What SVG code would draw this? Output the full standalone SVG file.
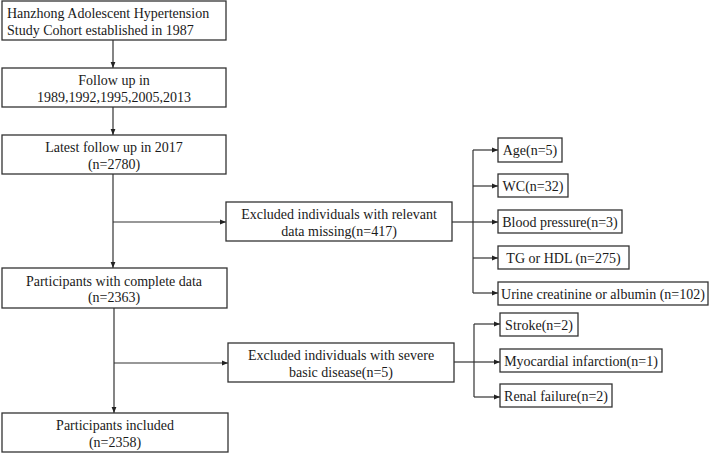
<svg xmlns="http://www.w3.org/2000/svg" width="709" height="453" viewBox="0 0 709 453">
<style>
.box{fill:#fff;stroke:#333;stroke-width:1.3}
.t{font-family:"Liberation Serif","Times New Roman",serif;font-size:14px;fill:#1a1a1a;text-anchor:middle;dominant-baseline:central}
.l{text-anchor:start}
.c{fill:none;stroke:#333;stroke-width:1.2}
</style>
<defs>
<marker id="a" viewBox="0 0 10 10" refX="10" refY="5" markerWidth="6" markerHeight="6" markerUnits="userSpaceOnUse" orient="auto">
<path d="M0,1 L10,5 L0,9 z" fill="#222"/>
</marker>
</defs>
<rect width="709" height="453" fill="#fff"/>
<g id="connectors">
<line class="c" x1="113" y1="40" x2="113" y2="68" marker-end="url(#a)"/>
<line class="c" x1="113" y1="107" x2="113" y2="135" marker-end="url(#a)"/>
<line class="c" x1="113" y1="174" x2="113" y2="268" marker-end="url(#a)"/>
<line class="c" x1="113" y1="222" x2="226" y2="222" marker-end="url(#a)"/>
<line class="c" x1="114" y1="308" x2="114" y2="413" marker-end="url(#a)"/>
<line class="c" x1="114" y1="363" x2="228" y2="363" marker-end="url(#a)"/>
<line class="c" x1="452" y1="222" x2="473" y2="222"/>
<line class="c" x1="473" y1="150" x2="473" y2="293"/>
<line class="c" x1="473" y1="150" x2="498" y2="150" marker-end="url(#a)"/>
<line class="c" x1="473" y1="186" x2="498" y2="186" marker-end="url(#a)"/>
<line class="c" x1="473" y1="222" x2="498" y2="222" marker-end="url(#a)"/>
<line class="c" x1="473" y1="258" x2="498" y2="258" marker-end="url(#a)"/>
<line class="c" x1="473" y1="293" x2="498" y2="293" marker-end="url(#a)"/>
<line class="c" x1="454" y1="362" x2="474" y2="362"/>
<line class="c" x1="474" y1="324" x2="474" y2="397"/>
<line class="c" x1="474" y1="324" x2="500" y2="324" marker-end="url(#a)"/>
<line class="c" x1="474" y1="362" x2="500" y2="362" marker-end="url(#a)"/>
<line class="c" x1="474" y1="397" x2="500" y2="397" marker-end="url(#a)"/>
</g>
<g id="n1"><rect class="box" x="2" y="1" width="224" height="39"/><text class="t l" x="7" y="13">Hanzhong Adolescent Hypertension</text><text class="t l" x="7" y="30">Study Cohort established in 1987</text></g>
<g id="n2"><rect class="box" x="2" y="68" width="224" height="39"/><text class="t" x="114" y="80">Follow up in</text><text class="t" x="114" y="97">1989,1992,1995,2005,2013</text></g>
<g id="n3"><rect class="box" x="2" y="135" width="224" height="39"/><text class="t" x="114" y="147">Latest follow up in 2017</text><text class="t" x="114" y="164">(n=2780)</text></g>
<g id="n4"><rect class="box" x="2" y="268" width="225" height="40"/><text class="t" x="114" y="281">Participants with complete data</text><text class="t" x="114" y="297">(n=2363)</text></g>
<g id="n5"><rect class="box" x="2" y="413" width="226" height="39"/><text class="t" x="115" y="425">Participants included</text><text class="t" x="115" y="442">(n=2358)</text></g>
<g id="e1"><rect class="box" x="226" y="202" width="226" height="39"/><text class="t" x="339" y="214">Excluded individuals with relevant</text><text class="t" x="339" y="231">data missing(n=417)</text></g>
<g id="e2"><rect class="box" x="228" y="343" width="226" height="39"/><text class="t" x="341" y="355">Excluded individuals with severe</text><text class="t" x="341" y="372">basic disease(n=5)</text></g>
<g id="r1"><rect class="box" x="498" y="138" width="64" height="24"/><text class="t" x="530" y="150">Age(n=5)</text></g>
<g id="r2"><rect class="box" x="498" y="174" width="70" height="23"/><text class="t" x="533" y="186">WC(n=32)</text></g>
<g id="r3"><rect class="box" x="498" y="210" width="124" height="23"/><text class="t" x="560" y="222">Blood pressure(n=3)</text></g>
<g id="r4"><rect class="box" x="498" y="246" width="131" height="23"/><text class="t" x="563.5" y="258">TG or HDL (n=275)</text></g>
<g id="r5"><rect class="box" x="498" y="282" width="210" height="23"/><text class="t" x="603" y="294">Urine creatinine or albumin (n=102)</text></g>
<g id="s1"><rect class="box" x="500" y="313" width="78" height="23"/><text class="t" x="539" y="325">Stroke(n=2)</text></g>
<g id="s2"><rect class="box" x="500" y="349" width="162" height="23"/><text class="t" x="581" y="361">Myocardial infarction(n=1)</text></g>
<g id="s3"><rect class="box" x="500" y="384" width="112" height="23"/><text class="t" x="556" y="396">Renal failure(n=2)</text></g>
</svg>
